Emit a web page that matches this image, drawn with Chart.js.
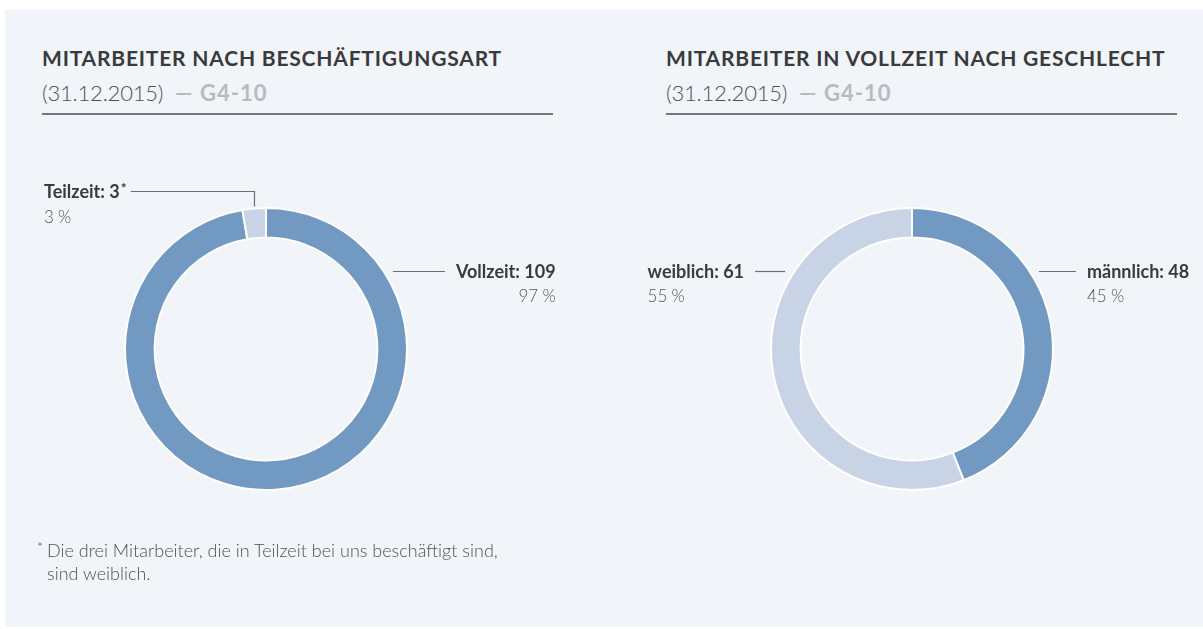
<!DOCTYPE html>
<html lang="de">
<head>
<meta charset="utf-8">
<title>Mitarbeiter 2015</title>
<script src="https://cdn.jsdelivr.net/npm/chart.js@4/dist/chart.umd.min.js"></script>
<style>
  html, body { margin: 0; padding: 0; background: #fff; }
  body { width: 1203px; height: 629px; position: relative; overflow: hidden; font-family: Lato, "Open Sans", sans-serif; }
  .panel { position: absolute; left: 5px; top: 10px; width: 1198px; height: 617px; background: #f1f4f9; }
  .head { position: absolute; top: 44px; width: 511px; border-bottom: 2px solid #77787b; padding-bottom: 5px; white-space: nowrap; }
  .head h2 { margin: 0; font-size: 21px; font-weight: 700; letter-spacing: 0.8px; color: #3a3a3c; line-height: 28px; }
  .head .sub { font-size: 22px; font-weight: 300; color: #4f5053; line-height: 30px; margin-top: 6px; letter-spacing: -0.2px; }
  .head .sub b { color: #b9babc; font-weight: 700; letter-spacing: 1px; margin-left: 6px; }
  #left  { left: 42px; }
  #right { left: 666px; }
  canvas { position: absolute; top: 130px; }
  #c1 { left: 0; }
  #c2 { left: 600px; }
  .note { position: absolute; left: 47px; top: 539px; font-size: 18px; font-weight: 300; color: #4f5053; line-height: 23px; }
  .note sup { position: absolute; left: -10px; top: -4px; font-size: 14px; }
</style>
</head>
<body>
<div class="panel"></div>

<div class="head" id="left">
  <h2>MITARBEITER NACH BESCHÄFTIGUNGSART</h2>
  <div class="sub">(31.12.2015) <b>— G4-10</b></div>
</div>
<div class="head" id="right">
  <h2>MITARBEITER IN VOLLZEIT NACH GESCHLECHT</h2>
  <div class="sub">(31.12.2015) <b>— G4-10</b></div>
</div>

<canvas id="c1" width="600" height="420"></canvas>
<canvas id="c2" width="603" height="420"></canvas>

<div class="note"><sup>*</sup>Die drei Mitarbeiter, die in Teilzeit bei uns beschäftigt sind,<br>sind weiblich.</div>

<script>
// Daten
const employmentLabels = ['Vollzeit', 'Teilzeit']
const employmentValues = [109, 3]
const employmentShares = ['97\u202F%', '3\u202F%']

const genderLabels = ['männlich', 'weiblich']
const genderValues = [48, 61]
const genderShares = ['45\u202F%', '55\u202F%']

const BLUE  = '#7299c2'
const LIGHT = '#c9d3e6'
const INK   = '#3a3a3c'
const GREY  = '#55565a'
const LINE  = '#6d6e71'

// Beschriftungen mit Führungslinien
const callouts = {
  id: 'callouts',
  afterDraw (chart, args, opts) {
    const ctx  = chart.ctx
    const meta = chart.getDatasetMeta(0)
    const ds   = chart.data.datasets[0]

    ctx.save()
    opts.items.forEach(it => {
      const arc = meta.data[it.index]
      const { x, y, outerRadius: r, startAngle, endAngle } =
        arc.getProps(['x', 'y', 'outerRadius', 'startAngle', 'endAngle'], true)
      const text = chart.data.labels[it.index] + ': ' + ds.data[it.index]

      ctx.font = 'bold 18px Lato'
      ctx.fillStyle = INK
      ctx.textBaseline = 'middle'
      ctx.strokeStyle = LINE
      ctx.lineWidth = 1.2

      let pctX, pctAlign
      if (it.type === 'elbow') {
        const mid = (startAngle + endAngle) / 2
        const px  = x + Math.cos(mid) * r
        const py  = y + Math.sin(mid) * (r + 2)
        ctx.textAlign = 'left'
        ctx.fillText(text, it.x, it.y + 1)
        const w = ctx.measureText(text).width
        ctx.font = 'bold 14px Lato'
        ctx.fillText('*', it.x + w + 1, it.y - 3)
        const end = it.x + w + 11
        ctx.beginPath()
        ctx.moveTo(end, it.y + 0.5)
        ctx.lineTo(Math.round(px) + 0.5, it.y + 0.5)
        ctx.lineTo(Math.round(px) + 0.5, py)
        ctx.stroke()
        pctX = it.x; pctAlign = 'left'
      } else {
        const dy = it.y - y
        const edge = Math.sqrt(r * r - dy * dy)
        const dir = it.side === 'right' ? 1 : -1
        const x0 = x + dir * (edge + 9.5)
        const x1 = x0 + dir * it.len
        ctx.beginPath()
        ctx.moveTo(x0, it.y + 0.5)
        ctx.lineTo(x1, it.y + 0.5)
        ctx.stroke()
        const tx = x1 + dir * 11
        ctx.textAlign = it.side === 'right' ? 'left' : 'right'
        ctx.fillText(text, tx, it.y + 1)
        const w = ctx.measureText(text).width
        const start = it.side === 'right' ? tx : tx - w
        const end   = it.side === 'right' ? tx + w : tx
        pctAlign = it.pctAlign
        pctX = pctAlign === 'right' ? end : start
      }

      ctx.font = '300 17px Lato'
      ctx.fillStyle = GREY
      ctx.textAlign = pctAlign
      ctx.textBaseline = 'alphabetic'
      ctx.fillText(opts.shares[it.index], pctX, it.pctY)
    })
    ctx.restore()
  }
}

function donut (id, labels, values, shares, padding, items) {
  return new Chart(document.getElementById(id), {
    type: 'doughnut',
    data: {
      labels,
      datasets: [{
        data: values,
        backgroundColor: [BLUE, LIGHT],
        borderColor: '#ffffff',
        borderWidth: 2
      }]
    },
    options: {
      responsive: false,
      animation: false,
      events: [],
      cutout: '79%',
      layout: { padding },
      plugins: {
        legend: { display: false },
        tooltip: { enabled: false },
        callouts: { items, shares }
      }
    },
    plugins: [callouts]
  })
}

donut('c1', employmentLabels, employmentValues, employmentShares,
  { left: 124, right: 192, top: 77, bottom: 59 },
  [
    { index: 0, type: 'side', side: 'right', y: 141, len: 52, pctAlign: 'right', pctY: 172 },
    { index: 1, type: 'elbow', x: 44, y: 61, pctY: 93 }
  ])

donut('c2', genderLabels, genderValues, genderShares,
  { left: 170, right: 149, top: 77, bottom: 59 },
  [
    { index: 0, type: 'side', side: 'right', y: 141, len: 37, pctAlign: 'left', pctY: 172 },
    { index: 1, type: 'side', side: 'left', y: 141, len: 30, pctAlign: 'left', pctY: 172 }
  ])
</script>
</body>
</html>
